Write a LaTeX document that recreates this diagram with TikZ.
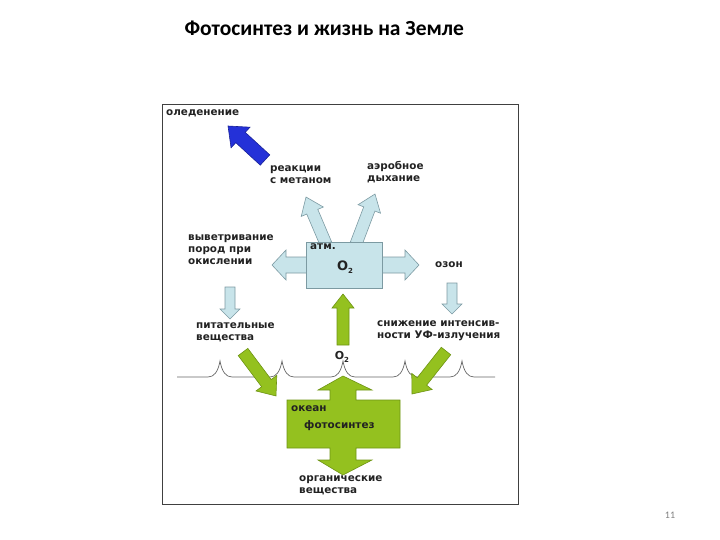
\documentclass[tikz,border=0pt]{standalone}
\usepackage{fontspec}
\setmainfont{DejaVu Sans}
\newfontfamily\titlefont{Carlito}
\definecolor{lb}{HTML}{C8E4EA}
\definecolor{lbd}{HTML}{7C9AA2}
\definecolor{gr}{HTML}{94C11F}
\definecolor{grd}{HTML}{6E9414}
\definecolor{bl}{HTML}{2431D8}
\definecolor{tx}{HTML}{222222}
\newcommand\fatarr[8]{% style, x1,y1,x2,y2, shaft half, head half, head len
  \pgfmathsetmacro{\ang}{atan2(-(#5)+(#3),(#4)-(#2))}%
  \pgfmathsetmacro{\len}{veclen((#4)-(#2),(#5)-(#3))}%
  \begin{scope}[shift={(#2,-#3)},rotate=\ang]
  \path[#1] (0,-#6)--(\len-#8,-#6)--(\len-#8,-#7)--(\len,0)--(\len-#8,#7)--(\len-#8,#6)--(0,#6)--cycle;
  \end{scope}}
\newcommand\subtwo{\raisebox{-0.25em}{\fontsize{7}{7}\selectfont 2}}
\begin{document}
\begin{tikzpicture}[x=1pt,y=1pt,
  lbs/.style={fill=lb,draw=lbd,line width=0.6pt},
  grs/.style={fill=gr,draw=grd,line width=0.6pt},
  bls/.style={fill=bl,draw=bl!70!black,line width=0.6pt},
  lab/.style={font=\bfseries\fontsize{10.4}{12}\selectfont,text=tx,inner sep=0pt,align=left}]
\useasboundingbox (0,0) rectangle (720,-540);
\node[font=\titlefont\bfseries\fontsize{21.5}{24}\selectfont,anchor=west] (title) at (181,-28) {Фотосинтез и жизнь на Земле};
\node[font=\titlefont\fontsize{10}{11}\selectfont,text=gray] (pg) at (670,-515) {11};
\draw[line width=0.8pt,draw=black!75] (162,-104) rectangle (518,-504);
\fatarr{bls}{265}{160}{228}{126}{7}{14}{17}
\fatarr{lbs}{326}{244}{306}{197}{6}{12}{16}
\fatarr{lbs}{356}{244}{375}{194}{6}{12}{16}
\fatarr{lbs}{310}{265}{272}{265}{8}{15}{14}
\fatarr{lbs}{378}{265}{419}{265}{8}{15}{14}
\fatarr{lbs}{230}{287}{230}{319}{5}{10}{10}
\fatarr{lbs}{452}{283}{452}{314}{5}{10}{10}
\path[lbs] (306,-242) rectangle (382,-288);
\fatarr{grs}{343}{345}{343}{294}{6}{11}{14}
\draw[gray!80!black,line width=0.7pt] (177,-377) -- (208,-377)
 .. controls (214,-377) and (218,-372) .. (220,-361) .. controls (222,-372) and (226,-377) .. (232,-377)
 -- (270,-377) .. controls (276,-377) and (280,-372) .. (282,-361) .. controls (284,-372) and (288,-377) .. (294,-377)
 -- (331,-377) .. controls (337,-377) and (341,-372) .. (343,-361) .. controls (345,-372) and (349,-377) .. (355,-377)
 -- (393,-377) .. controls (399,-377) and (403,-372) .. (405,-361) .. controls (407,-372) and (411,-377) .. (417,-377)
 -- (450,-377) .. controls (456,-377) and (460,-372) .. (462,-361) .. controls (464,-372) and (468,-377) .. (474,-377)
 -- (495,-377);
\fatarr{grs}{243}{352}{276}{396}{6}{13}{16}
\fatarr{grs}{446}{351}{412}{394}{6}{13}{16}
\path[grs] (287,-400) -- (330,-400) -- (330,-390) -- (318,-390) -- (343,-376) -- (372,-390) -- (356,-390) -- (356,-400)
  -- (400,-400) -- (400,-448) -- (356,-448) -- (356,-460) -- (372,-460) -- (343,-475) -- (318,-460) -- (330,-460) -- (330,-448)
  -- (287,-448) -- cycle;
\node[lab,anchor=west] (ol) at (166,-113) {оледенение};
\node[lab,anchor=north west] (met) at (270,-165) {реакции\\с метаном};
\node[lab,anchor=north west] (aer) at (367,-161) {аэробное\\дыхание};
\node[lab,anchor=north west] (vyv) at (188,-234) {выветривание\\пород при\\окислении};
\node[lab,anchor=west] (atm) at (310,-247) {атм.};
\node[font=\bfseries\fontsize{13}{14}\selectfont,text=tx] (o2a) at (345,-267) {O\subtwo};
\node[lab,anchor=west] (oz) at (435,-265) {озон};
\node[lab,anchor=north west] (pit) at (196,-322) {питательные\\вещества};
\node[lab,anchor=north west] (uf) at (377,-320) {снижение интенсив-\\ности УФ-излучения};
\node[font=\bfseries\fontsize{11}{12}\selectfont,text=tx] (o2b) at (342,-357) {O\subtwo};
\node[lab,anchor=west] (oc) at (291,-409) {океан};
\node[lab,anchor=west] (fs) at (304,-426) {фотосинтез};
\node[lab,anchor=north west] (org) at (299,-475) {органические\\вещества};
\end{tikzpicture}
\end{document}
